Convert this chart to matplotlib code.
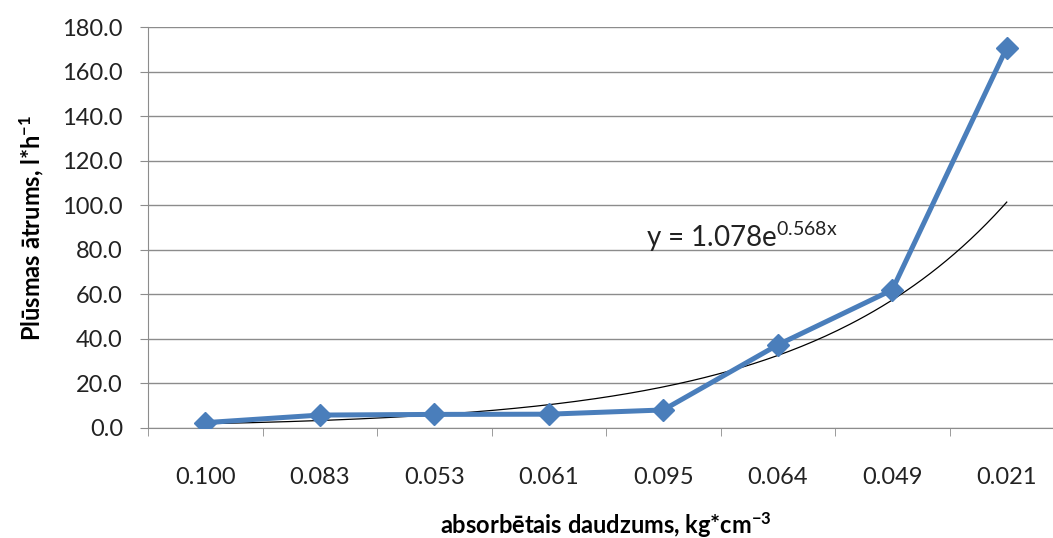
import matplotlib
matplotlib.use("Agg")
import matplotlib.pyplot as plt
import numpy as np

# data
categories = ["0.100", "0.083", "0.053", "0.061", "0.095", "0.064", "0.049", "0.021"]
flow_rate = [2.4, 5.8, 6.1, 6.2, 8.1, 37.3, 62.0, 170.7]

# exponential trendline shown on the chart: y = a * e^(b*x), x = 1..8
trend_a = 1.078
trend_b = 0.568

plt.rcParams['font.family'] = ['Lato', 'DejaVu Sans']
plt.rcParams['mathtext.default'] = 'regular'

fig = plt.figure(figsize=(10.53, 5.38), dpi=100)
ax = fig.add_axes([148/1053, 1 - 428/538, (1064 - 148)/1053, (428 - 27)/538])

x = np.arange(1, len(categories) + 1)
xt = np.linspace(1, len(categories), 200)
ax.plot(xt, trend_a * np.exp(trend_b * xt), color='black', lw=0.9, zorder=3)
ax.plot(x, flow_rate, color='#4a7ebb', lw=3.6, marker='D', markersize=11, zorder=4)

ax.set_xlim(0.5, len(categories) + 0.5)
ax.set_ylim(0, 180)
ax.set_yticks(np.arange(0, 181, 20))
ax.set_yticklabels([f"{v:.1f}" for v in np.arange(0, 181, 20)])
ax.set_xticks(x)
ax.set_xticklabels(categories)
ax.set_xticks(np.arange(0.5, len(categories) + 1, 1), minor=True)

ax.grid(axis='y', color='#8c8c8c', lw=1)
ax.set_axisbelow(True)
for s in ['top', 'right']:
    ax.spines[s].set_visible(False)
for s in ['left', 'bottom']:
    ax.spines[s].set_color('#8c8c8c')
ax.tick_params(axis='y', length=6, color='#8c8c8c', labelsize=17, pad=12, labelcolor='#222222')
ax.tick_params(axis='x', which='major', length=0, labelsize=17, pad=28, labelcolor='#222222')
ax.tick_params(axis='x', which='minor', length=6, color='#8c8c8c')

ax.set_ylabel("Plūsmas ātrums, l*h$^{-1}$", fontsize=17, fontweight='bold', labelpad=12)
ax.set_xlabel("absorbētais daudzums, kg*cm$^{-3}$", fontsize=17, fontweight='bold', labelpad=16)

ax.text(4.85, 86, "y = 1.078e$^{0.568x}$", fontsize=20, va='center', ha='left', color='#222222')

fig.savefig("out.png", dpi=100)
